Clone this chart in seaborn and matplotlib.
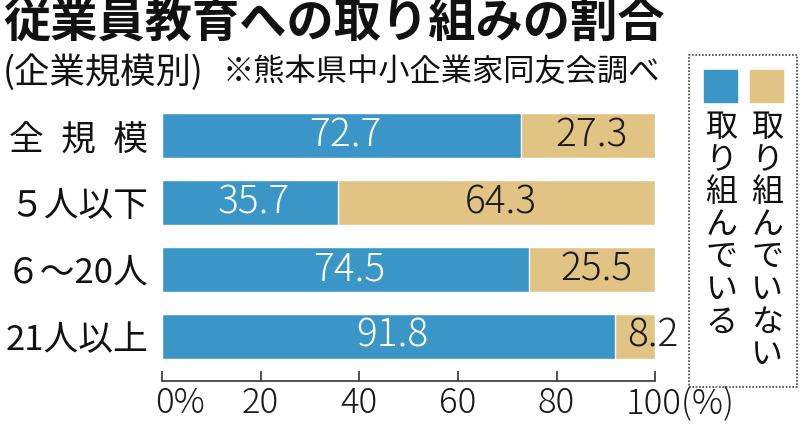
import numpy as np
import pandas as pd
import matplotlib
matplotlib.use("Agg")
import matplotlib.pyplot as plt
import seaborn as sns
from matplotlib.patches import Rectangle

# data
categories = ["全\u2002規\u2002模", "５人以下", "６～20人", "21人以上"]
doing = [72.7, 35.7, 74.5, 91.8]       # 取り組んでいる
not_doing = [27.3, 64.3, 25.5, 8.2]    # 取り組んでいない
xticks = [0, 20, 40, 60, 80, 100]
xtick_labels = ["0%", "20", "40", "60", "80", "100(%)"]

blue = "#3b96c8"
tan = "#e1c483"

sns.set_theme(style="white")
plt.rcParams['font.family'] = ['Noto Sans CJK JP', 'DejaVu Sans']

df = pd.DataFrame({"cat": categories,
                   "doing": doing,
                   "total": np.array(doing) + np.array(not_doing)})

fig = plt.figure(figsize=(8, 4.25), dpi=100)
ax = fig.add_axes([0.2025, 0.1035, 0.6165, 0.656])

sns.barplot(data=df, y="cat", x="total", color=tan, width=0.67,
            orient="h", ax=ax, saturation=1)
sns.barplot(data=df, y="cat", x="doing", color=blue, width=0.67,
            orient="h", ax=ax, saturation=1)

ax.set_xlim(0, 100)
ax.set_ylim(3.67, -0.5)
ax.set_xlabel("")
ax.set_ylabel("")

# value labels
for i, (a, b) in enumerate(zip(doing, not_doing)):
    ax.text(a / 2 + 0.8, i, f"{a:.1f}", color="white", ha="center", va="center",
            fontsize=28, fontweight="light")
    if b < 10:
        ax.text(a + 2.5, i, f"{b:.1f}", color="#1a1a1a", ha="left", va="center",
                fontsize=28, fontweight="light")
    else:
        ax.text(a + b / 2 + 0.8, i, f"{b:.1f}", color="#1a1a1a", ha="center",
                va="center", fontsize=28, fontweight="light")

for s in ["top", "right", "left"]:
    ax.spines[s].set_visible(False)
ax.spines["bottom"].set_color("#333333")
ax.spines["bottom"].set_linewidth(1.2)

ax.set_xticks(xticks)
ax.tick_params(axis="x", direction="in", length=7, width=1.2, color="#333333",
               bottom=True, labelbottom=False)
ax.tick_params(axis="y", length=0, labelsize=25, pad=10)
for t in ax.get_yticklabels():
    t.set_color("#111111")

# x tick labels: number centred on tick, unit suffix hanging to the right
shift = {"0%": -5, "100(%)": -21}
for xt, lab in zip(xticks, xtick_labels):
    dx = shift.get(lab, 0)
    ha = "left" if lab in shift else "center"
    ax.annotate(lab, (xt, 0), xycoords=("data", "axes fraction"),
                xytext=(dx, -23), textcoords="offset points",
                ha=ha, va="baseline", fontsize=25, fontweight="light",
                color="#1a1a1a", annotation_clip=False)

# title
fig.text(0.004, 0.947, "従業員教育への取り組みの割合", fontsize=34,
         fontweight="bold", ha="left", va="center", color="#111111")
fig.text(0.003, 0.83, "(企業規模別)", fontsize=25.5, ha="left", va="center",
         color="#111111")
fig.text(0.278, 0.83, "※熊本県中小企業家同友会調べ", fontsize=22.5, ha="left",
         va="center", color="#111111")

# legend box
fig.patches.append(Rectangle((0.861, 0.09), 0.135, 0.781,
                             transform=fig.transFigure, fill=False,
                             linestyle=(0, (1, 1)), linewidth=1.2,
                             edgecolor="#444444"))
fig.patches.append(Rectangle((0.88, 0.76), 0.041, 0.075,
                             transform=fig.transFigure, color=blue))
fig.patches.append(Rectangle((0.9375, 0.76), 0.041, 0.075,
                             transform=fig.transFigure, color=tan))
fig.text(0.902, 0.738, "\n".join("取り組んでいる"), fontsize=23,
         ha="center", va="top", linespacing=1.02, color="#111111")
fig.text(0.959, 0.738, "\n".join("取り組んでいない"), fontsize=23,
         ha="center", va="top", linespacing=1.02, color="#111111")

fig.savefig("out.png", dpi=100)
